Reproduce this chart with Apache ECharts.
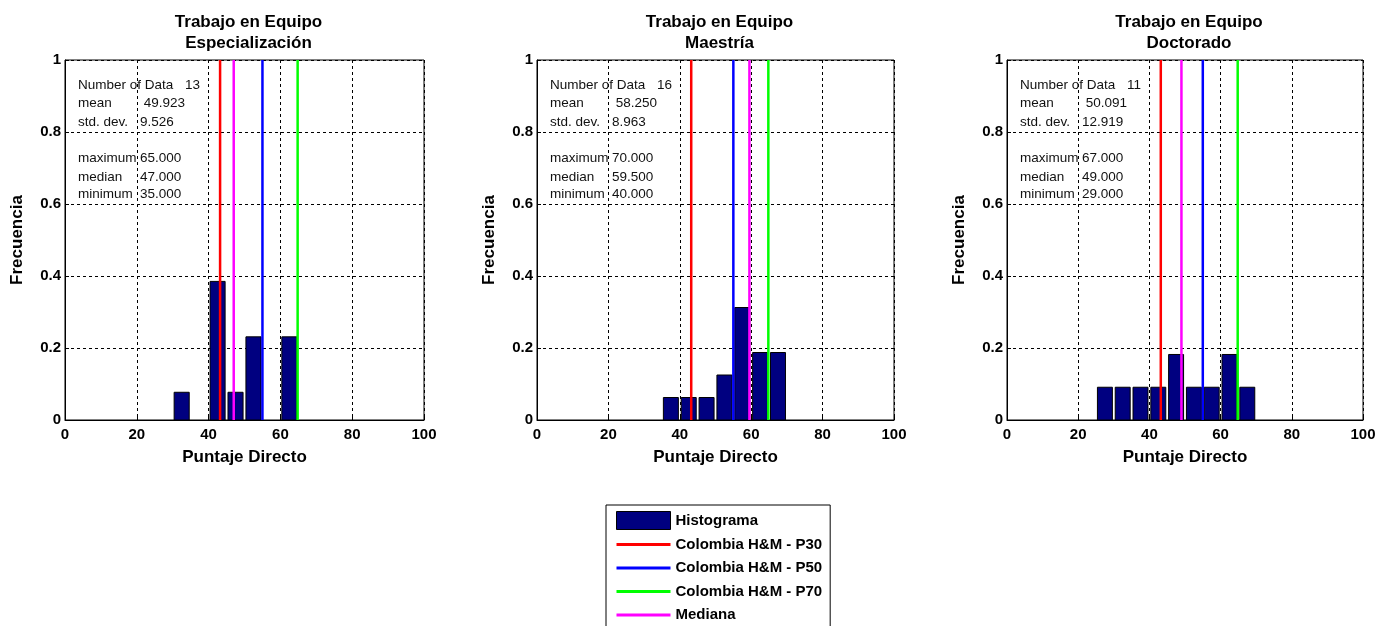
<!DOCTYPE html>
<html>
<head>
<meta charset="utf-8">
<script src="https://cdn.jsdelivr.net/npm/echarts@6/dist/echarts.min.js"></script>
<style>
html,body{margin:0;padding:0;background:#fff;}
#c{width:1391px;height:626px;}
</style>
</head>
<body>
<div id="c"></div>
<script>
// ---- data ----
const panelTitles = ['Trabajo en Equipo\nEspecialización', 'Trabajo en Equipo\nMaestría', 'Trabajo en Equipo\nDoctorado'];
const xTicks = [0, 20, 40, 60, 80, 100];
const yTicks = [0, 0.2, 0.4, 0.6, 0.8, 1];

const binsEsp = [32.5, 42.5, 47.5, 52.5, 62.5];
const freqEsp = [0.077, 0.385, 0.077, 0.231, 0.231];
const binsMae = [37.5, 42.5, 47.5, 52.5, 57.5, 62.5, 67.5];
const freqMae = [0.0625, 0.0625, 0.0625, 0.125, 0.3125, 0.1875, 0.1875];
const binsDoc = [27.5, 32.5, 37.5, 42.5, 47.5, 52.5, 57.5, 62.5, 67.5];
const freqDoc = [0.091, 0.091, 0.091, 0.091, 0.182, 0.091, 0.091, 0.182, 0.091];

const p30 = [43.2, 43.2, 43.2];
const p50 = [55.0, 55.0, 55.0];
const p70 = [64.8, 64.8, 64.8];
const medianas = [47.0, 59.5, 49.0];

const statLabels = ['Number of Data', 'mean', 'std. dev.', 'maximum', 'median', 'minimum'];
const statsEsp = ['13', ' 49.923', '9.526', '65.000', '47.000', '35.000'];
const statsMae = ['16', ' 58.250', '8.963', '70.000', '59.500', '40.000'];
const statsDoc = ['11', ' 50.091', '12.919', '67.000', '49.000', '29.000'];

const seriesNames = ['Histograma', 'Colombia H&M - P30', 'Colombia H&M - P50', 'Colombia H&M - P70', 'Mediana'];
// ---- layout/style ----
const grids = [
  {left: 65, top: 60, width: 359, height: 360},
  {left: 537, top: 60, width: 357, height: 360},
  {left: 1007, top: 60, width: 356, height: 360}
];
const bins = [binsEsp, binsMae, binsDoc];
const freqs = [freqEsp, freqMae, freqDoc];
const stats = [statsEsp, statsMae, statsDoc];
const binWidth = 5, barFrac = 0.84;
const FONT = 'Liberation Sans, Arial, sans-serif';
const lineColors = {p30: '#ff0000', p50: '#0000ff', p70: '#00ff00', med: '#ff00ff'};

const chart = echarts.init(document.getElementById('c'), null, {renderer: 'canvas'});

const option = {
  animation: false,
  backgroundColor: '#fff',
  textStyle: {fontFamily: FONT},
  title: grids.map((g, i) => ({
    text: panelTitles[i],
    left: g.left + g.width / 2 - 1,
    top: 7,
    textAlign: 'center',
    textStyle: {fontFamily: FONT, fontSize: 17, fontWeight: 'bold', color: '#000', lineHeight: 21}
  })),
  grid: grids.map(g => ({left: g.left, top: g.top, width: g.width, height: g.height, show: true, borderColor: '#000', borderWidth: 1, backgroundColor: '#fff'})),
  xAxis: grids.map((g, i) => ({
    gridIndex: i, type: 'value', min: xTicks[0], max: xTicks[xTicks.length - 1], interval: 20,
    name: 'Puntaje Directo', nameLocation: 'middle', nameGap: 29,
    nameTextStyle: {fontFamily: FONT, fontSize: 17, fontWeight: 'bold', color: '#000'},
    axisLine: {show: true, lineStyle: {color: '#000', width: 1}},
    axisTick: {show: true, inside: true, length: 4, lineStyle: {color: '#000'}},
    axisLabel: {fontFamily: FONT, fontSize: 15, fontWeight: 'bold', color: '#000', margin: 7},
    splitLine: {show: true, lineStyle: {color: '#000', width: 1, type: [3, 3]}}
  })),
  yAxis: grids.map((g, i) => ({
    gridIndex: i, type: 'value', min: yTicks[0], max: yTicks[yTicks.length - 1], interval: 0.2,
    name: 'Frecuencia', nameLocation: 'middle', nameGap: 39,
    nameTextStyle: {fontFamily: FONT, fontSize: 17, fontWeight: 'bold', color: '#000'},
    axisLine: {show: true, lineStyle: {color: '#000', width: 1}},
    axisTick: {show: true, inside: true, length: 4, lineStyle: {color: '#000'}},
    axisLabel: {fontFamily: FONT, fontSize: 15, fontWeight: 'bold', color: '#000', margin: 4,
      formatter: v => (v === 0 ? '0' : v === 1 ? '1' : v.toFixed(1))},
    splitLine: {show: true, lineStyle: {color: '#000', width: 1, type: [3, 3]}}
  })),
  legend: {
    orient: 'vertical', left: 606, top: 505, height: 160,
    backgroundColor: '#fff', borderColor: '#000', borderWidth: 1,
    padding: [6, 8, 10, 10], itemGap: 5.5, itemWidth: 54, itemHeight: 18,
    textStyle: {fontFamily: FONT, fontSize: 15, fontWeight: 'bold', color: '#000', lineHeight: 18},
    data: [
      {name: seriesNames[0], icon: 'rect', itemStyle: {color: '#000080', borderColor: '#000', borderWidth: 1}},
      {name: seriesNames[1], icon: 'path://M0,0 H54 V3 H0 Z', itemStyle: {color: lineColors.p30}},
      {name: seriesNames[2], icon: 'path://M0,0 H54 V3 H0 Z', itemStyle: {color: lineColors.p50}},
      {name: seriesNames[3], icon: 'path://M0,0 H54 V3 H0 Z', itemStyle: {color: lineColors.p70}},
      {name: seriesNames[4], icon: 'path://M0,0 H54 V3 H0 Z', itemStyle: {color: lineColors.med}}
    ]
  },
  graphic: [],
  series: []
};

grids.forEach((g, i) => {
  option.series.push({
    name: seriesNames[0], type: 'custom', xAxisIndex: i, yAxisIndex: i, z: 3,
    itemStyle: {color: '#000080', borderColor: '#000'},
    data: bins[i].map((c, k) => [c, freqs[i][k]]),
    renderItem: function (params, api) {
      const c = api.value(0), f = api.value(1);
      const half = binWidth * barFrac / 2;
      const p0 = api.coord([c - half, f]);
      const p1 = api.coord([c + half, 0]);
      return {type: 'rect', shape: {x: p0[0], y: p0[1], width: p1[0] - p0[0], height: p1[1] - p0[1]},
        style: {fill: '#000080', stroke: '#000', lineWidth: 1}};
    }
  });
  const vline = (name, val, color) => ({
    name: name, type: 'line', xAxisIndex: i, yAxisIndex: i, z: 5, symbol: 'none',
    lineStyle: {color: color, width: 2.5}, itemStyle: {color: color},
    data: [[val, yTicks[0]], [val, yTicks[yTicks.length - 1]]]
  });
  option.series.push(vline(seriesNames[1], p30[i], lineColors.p30));
  option.series.push(vline(seriesNames[4], medianas[i], lineColors.med));
  option.series.push(vline(seriesNames[2], p50[i], lineColors.p50));
  option.series.push(vline(seriesNames[3], p70[i], lineColors.p70));

  const rows = [25, 43, 62, 98, 117, 134];
  const valX = [120, 75, 75, 75, 75, 75];
  statLabels.forEach((lab, k) => {
    option.graphic.push({type: 'text', left: g.left + 13, top: g.top + rows[k] - 7, z: 10,
      style: {text: lab, font: '13.5px ' + FONT, fill: '#111'}});
    option.graphic.push({type: 'text', left: g.left + valX[k], top: g.top + rows[k] - 7, z: 10,
      style: {text: stats[i][k], font: '13.5px ' + FONT, fill: '#111'}});
  });
});

chart.setOption(option);
</script>
</body>
</html>
